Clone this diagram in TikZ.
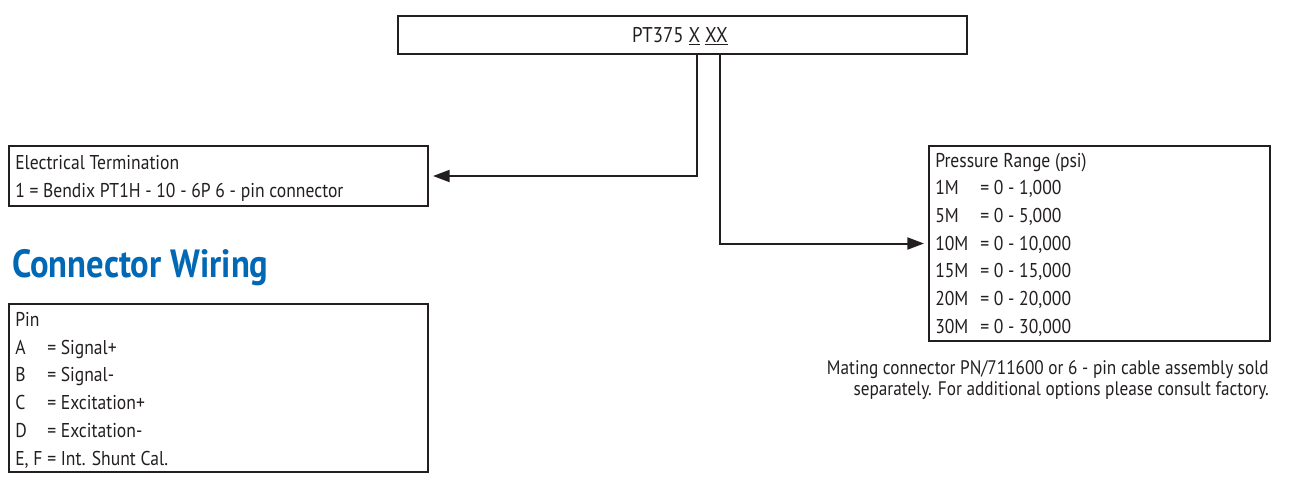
\documentclass[tikz,border=0pt]{standalone}
\usepackage{fontspec}
\setmainfont[FakeStretch=0.88]{PT Sans}
\usepackage{xcolor}
\usetikzlibrary{positioning,arrows.meta,calc}
\definecolor{tinta}{HTML}{231F20}
\definecolor{azul}{HTML}{0068B4}
\tikzset{
  caixa/.style={draw=tinta, line width=1.5pt, inner sep=0pt, anchor=north west},
  texto/.style={text=tinta, font=\fontsize{15}{20.8}\selectfont, align=left,
                inner sep=0pt, anchor=north west},
  seta/.style={draw=tinta, line width=1.5pt, -{Triangle[length=12.5pt, width=9pt]},
               shorten >=3pt},
}
\newcommand{\rotulo}[2]{\makebox[#1][l]{#2}}

\begin{document}
\begin{tikzpicture}[x=0.75pt,y=-0.75pt]
    \useasboundingbox (0,0) rectangle (1308,486);

    %% ---------- codigo do produto ----------
    \node[caixa, minimum width=426.75pt, minimum height=28.5pt] (codigo) at (397,15) {};
    \node[texto, anchor=center, font=\fontsize{16}{18}\selectfont] (codTxt) at (680,36)
      {PT375 \underline{X} \underline{XX}};
    \coordinate (tapTerm)  at (codigo.south -| 697,0);
    \coordinate (tapFaixa) at (codigo.south -| 720,0);

    %% ---------- terminacao eletrica ----------
    \node[caixa, minimum width=314.25pt, minimum height=45pt] (term) at (8,145) {};
    \node[texto] (termTxt) at (15,155)
      {Electrical Termination\\1 = Bendix PT1H - 10 - 6P 6 - pin connector};

    %% ---------- faixa de pressao ----------
    \node[caixa, minimum width=255.75pt, minimum height=146.25pt] (faixa) at (928,145) {};
    \node[texto] (faixaTxt) at (935,152.5)
      {Pressure Range (psi)\\
       \rotulo{2.25em}{1M}= 0 - 1,000\\
       \rotulo{2.25em}{5M}= 0 - 5,000\\
       \rotulo{2.25em}{10M}= 0 - 10,000\\
       \rotulo{2.25em}{15M}= 0 - 15,000\\
       \rotulo{2.25em}{20M}= 0 - 20,000\\
       \rotulo{2.25em}{30M}= 0 - 30,000};
    \node[texto, align=right, anchor=north east, font=\fontsize{14.7}{15.75}\selectfont]
      (nota) at (1269,360)
      {Mating connector PN/711600 or 6 - pin cable assembly sold\\
       separately. For additional options please consult factory.};

    %% ---------- fiacao do conector ----------
    \node[anchor=base west, inner sep=0pt, text=azul,
          font=\fontsize{29.5}{31}\bfseries\selectfont] (titulo) at (12,277) {Connector Wiring};
    \node[caixa, minimum width=314.25pt, minimum height=126pt] (pinos) at (8,303) {};
    \node[texto] (pinosTxt) at (15,312)
      {Pin\\
       \rotulo{1.6em}{A}= Signal+\\
       \rotulo{1.6em}{B}= Signal-\\
       \rotulo{1.6em}{C}= Excitation+\\
       \rotulo{1.6em}{D}= Excitation-\\
       \rotulo{1.6em}{E, F}= Int. Shunt Cal.};

    %% ---------- ligacoes ----------
    \draw[seta] (tapTerm) |- (term.east);
    \draw[seta] (tapFaixa) |- (faixa.west);

\end{tikzpicture}
\end{document}
